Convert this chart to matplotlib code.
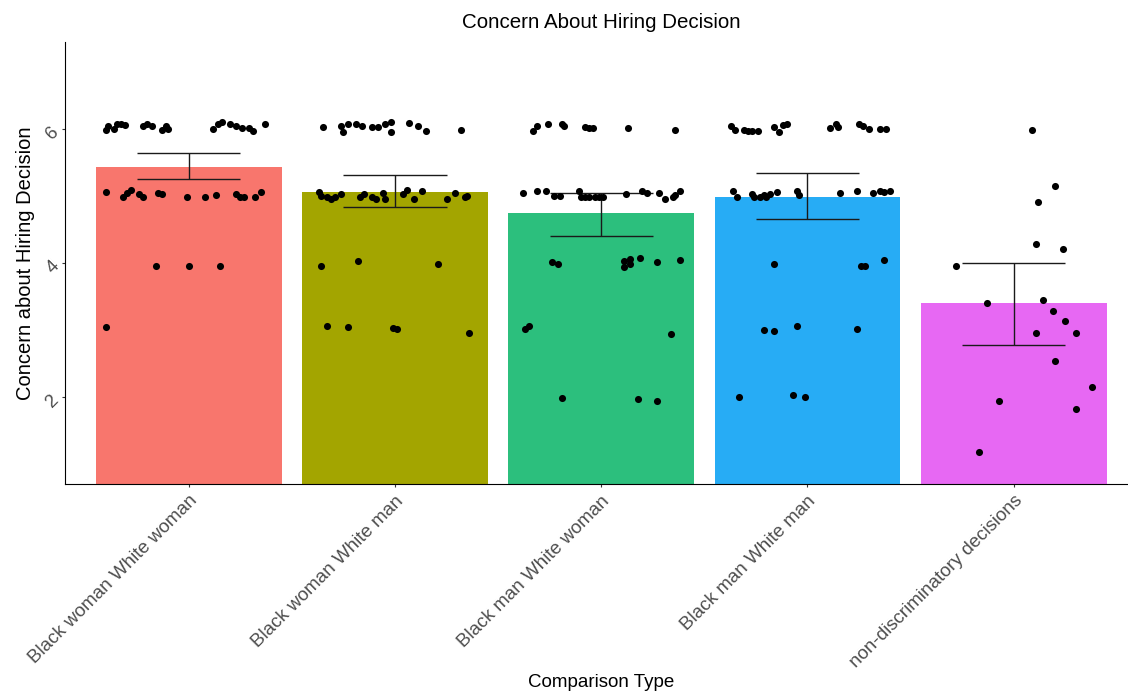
import matplotlib.pyplot as plt
import numpy as np

plt.rcParams['font.family'] = ['Liberation Sans', 'DejaVu Sans']

# comparison groups and bar fills (ggplot hue palette)
categories = ["Black woman White woman", "Black woman White man",
              "Black man White woman", "Black man White man",
              "non-discriminatory decisions"]
bar_colors = ["#F8766D", "#A3A500", "#2CBF7D", "#27ACF5", "#E768F3"]

# group means and interval limits
mean_concern = [5.43, 5.06, 4.75, 4.98, 3.40]
ci_low = [5.25, 4.84, 4.41, 4.66, 2.78]
ci_high = [5.64, 5.31, 5.04, 5.34, 4.00]

# individual responses: horizontal jitter (category units) and jittered value
bww_dx = [-0.40, -0.39, -0.36, -0.35, -0.33, -0.31, -0.22, -0.20, -0.18, -0.13, -0.11,
          -0.10, 0.12, 0.14, 0.16, 0.20, 0.23, 0.26, 0.29, 0.31, 0.37,
          -0.40, -0.32, -0.30, -0.28, -0.24, -0.22, -0.15, -0.13, -0.01, 0.08, 0.13,
          0.23, 0.25, 0.27, 0.32, 0.35,
          -0.16, 0.00, 0.15,
          -0.40]
bww_y = [5.99, 6.05, 6.00, 6.07, 6.07, 6.06, 6.05, 6.07, 6.05, 5.99, 6.04,
         6.00, 6.00, 6.07, 6.10, 6.07, 6.05, 6.02, 6.02, 5.97, 6.07,
         5.06, 4.98, 5.05, 5.09, 5.03, 4.98, 5.04, 5.03, 4.99, 4.98, 5.01,
         5.03, 4.99, 4.99, 4.98, 5.06,
         3.95, 3.96, 3.95,
         3.05]

bwm_dx = [-0.35, -0.26, -0.25, -0.23, -0.19, -0.16, -0.11, -0.08, -0.05, -0.02, -0.02,
          0.07, 0.11, 0.15, 0.32,
          -0.37, -0.36, -0.33, -0.31, -0.29, -0.26, -0.17, -0.15, -0.11, -0.09,
          -0.06, -0.05, 0.04, 0.06, 0.09, 0.13, 0.25, 0.29, 0.34, 0.35,
          -0.36, -0.18, 0.21,
          -0.33, -0.23, -0.01, 0.01, 0.36]
bwm_y = [6.03, 6.04, 5.96, 6.07, 6.07, 6.04, 6.03, 6.03, 6.07, 6.10, 5.96,
         6.09, 6.04, 5.97, 5.99,
         5.06, 5.00, 4.99, 4.96, 4.99, 5.03, 4.99, 5.03, 4.99, 4.96,
         5.04, 4.96, 5.03, 5.09, 4.96, 5.08, 4.96, 5.04, 4.99, 5.00,
         3.95, 4.03, 3.99,
         3.06, 3.04, 3.03, 3.01, 2.95]

bmw_dx = [-0.33, -0.31, -0.26, -0.19, -0.18, -0.08, -0.06, -0.04, 0.13, 0.36,
          -0.38, -0.31, -0.27, -0.23, -0.20, -0.11, -0.10, -0.08, -0.06, -0.03,
          -0.01, 0.01, 0.12, 0.20, 0.22, 0.28, 0.31, 0.35, 0.36, 0.38,
          -0.24, -0.21, 0.11, 0.11, 0.14, 0.14, 0.19, 0.27, 0.38,
          -0.37, -0.35, 0.34,
          -0.19, 0.18, 0.27]
bmw_y = [5.97, 6.04, 6.07, 6.07, 6.04, 6.03, 6.01, 6.01, 6.01, 5.99,
         5.04, 5.08, 5.08, 5.00, 5.00, 5.08, 4.99, 4.99, 4.99, 4.98,
         4.98, 4.98, 5.03, 5.08, 5.05, 5.05, 4.95, 4.98, 5.01, 5.08,
         4.01, 3.98, 3.94, 4.03, 4.06, 3.99, 4.08, 4.01, 4.05,
         3.01, 3.06, 2.94,
         1.98, 1.97, 1.94]

bmm_dx = [-0.37, -0.35, -0.31, -0.29, -0.27, -0.24, -0.16, -0.14, -0.12, -0.10,
          0.11, 0.14, 0.15, 0.25, 0.27, 0.30, 0.35, 0.38,
          -0.36, -0.34, -0.27, -0.26, -0.23, -0.21, -0.20, -0.18, -0.15, -0.05,
          -0.04, 0.16, 0.24, 0.32, 0.35, 0.37, 0.40,
          -0.16, 0.26, 0.28, 0.37,
          -0.21, -0.16, -0.05, 0.24,
          -0.33, -0.07, -0.01]
bmm_y = [6.04, 5.99, 5.99, 5.97, 5.97, 5.97, 6.03, 5.96, 6.06, 6.07,
         6.01, 6.07, 6.03, 6.07, 6.04, 6.00, 6.00, 6.00,
         5.08, 4.99, 5.03, 4.99, 4.98, 5.01, 4.98, 5.03, 5.06, 5.08,
         5.01, 5.04, 5.08, 5.04, 5.08, 5.06, 5.08,
         3.99, 3.96, 3.96, 4.05,
         3.00, 2.98, 3.06, 3.01,
         2.00, 2.03, 2.00]

nd_dx = [0.09, 0.20, 0.12, 0.11, 0.24, -0.28, -0.13, 0.14, 0.19, 0.25,
         0.11, 0.30, 0.20, 0.38, -0.07, 0.30, -0.17]
nd_y = [5.99, 5.15, 4.91, 4.29, 4.21, 3.95, 3.40, 3.45, 3.29, 3.14,
        2.96, 2.95, 2.53, 2.15, 1.94, 1.82, 1.18]

groups_dx = [bww_dx, bwm_dx, bmw_dx, bmm_dx, nd_dx]
groups_y = [bww_y, bwm_y, bmw_y, bmm_y, nd_y]

fig = plt.figure(figsize=(11.28, 6.92), dpi=100)
ax = fig.add_axes([0.0576, 0.3006, 0.9508, 0.6387])

x = np.arange(len(categories))
ax.bar(x, mean_concern, width=0.9, color=bar_colors, zorder=1)

# error bars drawn as plain segments so the caps keep a fixed width in data units
ax.vlines(x, ci_low, ci_high, color="#1a1a1a", lw=1.0, zorder=2)
ax.hlines(ci_low, x - 0.25, x + 0.25, color="#1a1a1a", lw=1.0, zorder=2)
ax.hlines(ci_high, x - 0.25, x + 0.25, color="#1a1a1a", lw=1.0, zorder=2)

for i in range(len(categories)):
    ax.scatter(i + np.array(groups_dx[i]), groups_y[i], s=26, color="black",
               linewidths=0, zorder=3)

ax.set_xlim(-0.6, 4.6)
ax.set_ylim(0.7, 7.3)
ax.set_yticks([2, 4, 6])
ax.set_xticks(x)
ax.set_xticklabels(categories)

for side in ["top", "right"]:
    ax.spines[side].set_visible(False)
for side in ["left", "bottom"]:
    ax.spines[side].set_linewidth(0.8)
    ax.spines[side].set_color("black")

ax.tick_params(axis="both", length=2.5, width=0.8, color="#333333",
               labelcolor="#4D4D4D", labelsize=13.5)

# slanted tick labels
for lbl in ax.get_xticklabels():
    lbl.set_rotation(45)
    lbl.set_ha("right")
    lbl.set_va("top")
    lbl.set_rotation_mode("anchor")
for lbl in ax.get_yticklabels():
    lbl.set_rotation(45)
    lbl.set_ha("right")
    lbl.set_va("center")
    lbl.set_rotation_mode("anchor")

ax.set_title("Concern About Hiring Decision", fontsize=14.8, color="black", pad=10)
ax.set_xlabel("Comparison Type", fontsize=13.5, color="black", labelpad=2)
ax.set_ylabel("Concern about Hiring Decision", fontsize=14.5, color="black", labelpad=6)

fig.savefig("out.png", dpi=100)
